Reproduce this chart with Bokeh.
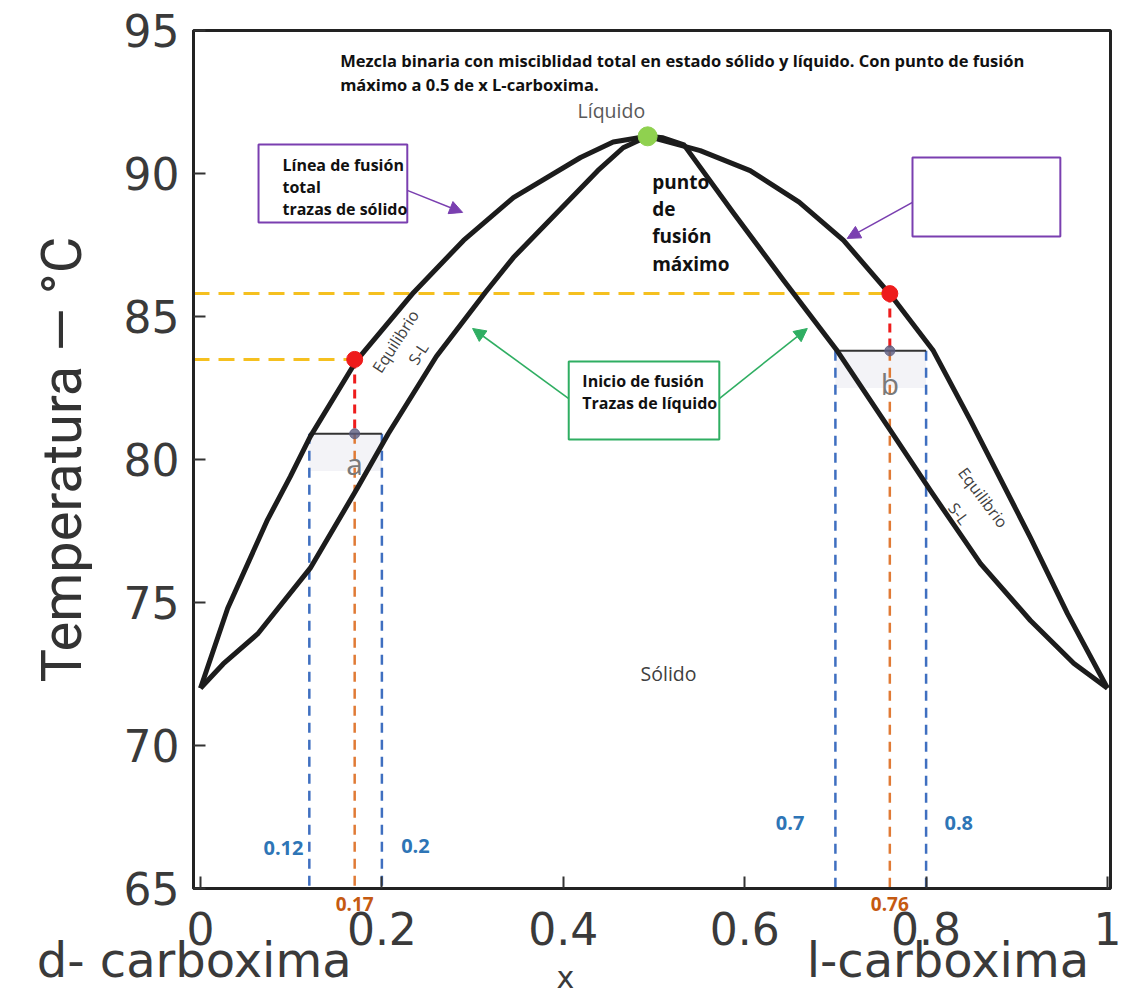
from bokeh.plotting import figure
from bokeh.models import Range1d, FixedTicker, Label, Arrow, NormalHead, LinearAxis
from bokeh.embed import file_html
from bokeh.resources import INLINE
import math

# ---------------- data ----------------
# upper curve (liquidus, "línea de fusión total")
liq_x = [0.0, 0.03, 0.074, 0.099, 0.121, 0.172, 0.235, 0.29, 0.345, 0.419, 0.455, 0.493,
         0.551, 0.606, 0.66, 0.709, 0.761, 0.808, 0.849, 0.915, 0.956, 1.0]
liq_T = [72.0, 74.8, 77.9, 79.4, 80.8, 83.46, 85.84, 87.66, 89.16, 90.56, 91.1, 91.3,
         90.8, 90.1, 89.0, 87.66, 85.75, 83.8, 81.36, 77.27, 74.6, 72.0]
# lower curve (solidus, "inicio de fusión")
sol_x = [0.0, 0.025, 0.063, 0.121, 0.173, 0.207, 0.26, 0.314, 0.345, 0.438, 0.466, 0.493,
         0.51, 0.533, 0.588, 0.643, 0.702, 0.761, 0.805, 0.86, 0.915, 0.963, 1.0]
sol_T = [72.0, 72.85, 73.9, 76.2, 79.0, 80.9, 83.6, 85.84, 87.06, 90.1, 90.9, 91.3,
         91.25, 91.0, 88.6, 86.26, 83.8, 81.0, 78.9, 76.36, 74.37, 72.87, 72.0]

# maximum melting point
max_x = [0.493]
max_T = [91.3]

# point a : tie line compositions and temperatures
a_xs = [0.12, 0.17, 0.2]
a_T_tie = 80.9
a_T_liq = 83.5
# point b
b_xs = [0.7, 0.76, 0.8]
b_T_tie = 83.8
b_T_liq = 85.8

x_ticks = [0, 0.2, 0.4, 0.6, 0.8, 1.0]
x_tick_labels = ["0", "0.2", "0.4", "0.6", "0.8", "1"]
y_ticks = [65, 70, 75, 80, 85, 90, 95]
comp_labels = ["0.17", "0.76"]

# ---------------- figure ----------------
x0, x1 = -0.0077, 1.0033
p = figure(width=1140, height=998, x_range=Range1d(x0, x1), y_range=Range1d(65, 95),
           output_backend="svg", toolbar_location=None,
           min_border_left=193, min_border_right=30, min_border_top=30, min_border_bottom=110)
p.grid.visible = False
p.outline_line_color = "#222222"
p.outline_line_width = 3
p.background_fill_color = "white"

# y axis
ya = p.yaxis[0]
ya.axis_line_color = "#222222"
ya.axis_line_width = 3
ya.major_tick_in = 12
ya.major_tick_out = 0
ya.major_tick_line_color = "#333333"
ya.major_tick_line_width = 2
ya.minor_tick_line_color = None
ya.major_label_text_font = "DejaVu Sans"
ya.major_label_text_font_size = "44px"
ya.major_label_text_color = "#3a3a3a"
ya.major_label_standoff = 14
ya.ticker = FixedTicker(ticks=y_ticks, minor_ticks=[])
ya.axis_label = "Temperatura — °C"
ya.axis_label_text_font = "Roboto"
ya.axis_label_text_font_style = "normal"
ya.axis_label_text_font_size = "56px"
ya.axis_label_text_color = "#333333"
ya.axis_label_standoff = 26

# first bottom axis: frame line, inward ticks, orange composition labels
xa = p.xaxis[0]
xa.ticker = FixedTicker(ticks=[a_xs[1], b_xs[1]], minor_ticks=x_ticks)
xa.major_label_overrides = {a_xs[1]: comp_labels[0], b_xs[1]: comp_labels[1]}
xa.axis_line_color = "#222222"
xa.axis_line_width = 3
xa.major_tick_line_color = None
xa.major_tick_in = 0
xa.major_tick_out = 0
xa.minor_tick_in = 12
xa.minor_tick_out = 0
xa.minor_tick_line_color = "#333333"
xa.minor_tick_line_width = 2
xa.major_label_text_font = "Open Sans"
xa.major_label_text_font_style = "bold"
xa.major_label_text_font_size = "19px"
xa.major_label_text_color = "#c55a11"
xa.major_label_standoff = 8

def label_axis(ticks, labels, size, standoff, font="DejaVu Sans"):
    ax = LinearAxis(ticker=FixedTicker(ticks=ticks, minor_ticks=[]),
                    major_label_overrides={t: s for t, s in zip(ticks, labels)},
                    axis_line_color=None, major_tick_line_color=None,
                    minor_tick_line_color=None, major_tick_in=0, major_tick_out=0,
                    minor_tick_in=0, minor_tick_out=0,
                    major_label_text_font=font, major_label_text_font_size=f"{size}px",
                    major_label_text_color="#3a3a3a", major_label_standoff=standoff)
    p.add_layout(ax, "below")
    return ax

label_axis(x_ticks, x_tick_labels, 44, -2)
label_axis([-0.007, 0.824], ["d- carboxima", "l-carboxima"], 48, -16)
label_axis([0.4024], ["x"], 30, -31)

# ---------------- guide lines ----------------
yellow = "#f5c01f"
blue = "#3f6fc0"
orange = "#e07a35"
red = "#ee1c1c"

# yellow dashed horizontals
p.segment(x0=[x0, x0], y0=[a_T_liq, b_T_liq], x1=[a_xs[1], b_xs[1]], y1=[a_T_liq, b_T_liq],
          line_color=yellow, line_width=3, line_dash="16 9")

# light shading under the tie lines
p.quad(left=[a_xs[0], b_xs[0]], right=[a_xs[2], b_xs[2]],
       top=[a_T_tie, b_T_tie], bottom=[a_T_tie - 1.3, b_T_tie - 1.3],
       fill_color="#c9c9d9", fill_alpha=0.22, line_color=None)

# blue dashed verticals
bx = [a_xs[0], a_xs[2], b_xs[0], b_xs[2]]
bt = [a_T_tie, a_T_tie, b_T_tie, b_T_tie]
p.segment(x0=bx, y0=bt, x1=bx, y1=[65] * 4, line_color=blue, line_width=2.5, line_dash="10 7")
# orange dashed verticals
ox = [a_xs[1], b_xs[1]]
p.segment(x0=ox, y0=[a_T_tie, b_T_tie], x1=ox, y1=[65, 65], line_color=orange,
          line_width=2.5, line_dash="10 7")
# red dashed verticals
p.segment(x0=ox, y0=[a_T_liq, b_T_liq], x1=ox, y1=[a_T_tie, b_T_tie], line_color=red,
          line_width=3, line_dash="9 6")

# tie lines
p.segment(x0=[a_xs[0], b_xs[0]], y0=[a_T_tie, b_T_tie], x1=[a_xs[2], b_xs[2]],
          y1=[a_T_tie, b_T_tie], line_color="#333333", line_width=2)

# ---------------- curves ----------------
p.line(liq_x, liq_T, line_color="#1c1c1c", line_width=5, line_join="round")
p.line(sol_x, sol_T, line_color="#1c1c1c", line_width=5, line_join="round")

# points
p.scatter(ox, [a_T_tie, b_T_tie], size=10, color="#5d5d80", alpha=0.8)
p.scatter(ox, [a_T_liq, b_T_liq], size=16, color=red)
p.scatter(max_x, max_T, size=19, color="#8fd14f")

# ---------------- annotation boxes and arrows ----------------
purple = "#7a3fb0"
green = "#2fae62"
p.quad(left=[0.064, 0.785], right=[0.228, 0.948], bottom=[88.29, 87.8], top=[91.01, 90.56],
       fill_color="white", line_color=purple, line_width=2)
p.quad(left=[0.406], right=[0.572], bottom=[80.70], top=[83.43],
       fill_color="white", line_color=green, line_width=2)

def arrow(xs, ys, xe, ye, c):
    p.add_layout(Arrow(end=NormalHead(size=13, fill_color=c, line_color=c),
                       x_start=xs, y_start=ys, x_end=xe, y_end=ye,
                       line_color=c, line_width=1.6))

arrow(0.228, 89.41, 0.289, 88.64, purple)
arrow(0.785, 88.99, 0.713, 87.73, purple)
arrow(0.406, 82.13, 0.300, 84.58, green)
arrow(0.572, 82.13, 0.669, 84.58, green)

# ---------------- texts ----------------
def lab(x, y, text, size, color, style="normal", align="left", baseline="middle",
        angle=0.0, font="Open Sans"):
    p.add_layout(Label(x=x, y=y, text=text, text_font=font, text_font_size=f"{size}px",
                       text_color=color, text_font_style=style, text_align=align,
                       text_baseline=baseline, angle=angle))

lab(0.154, 93.95, "Mezcla binaria con misciblidad total en estado sólido y líquido. Con punto de fusión",
    16.5, "#111111", "bold")
lab(0.154, 93.10, "máximo a 0.5 de x L-carboxima.", 16.5, "#111111", "bold")
lab(0.453, 92.2, "Líquido", 19.5, "#595959", align="center")
lab(0.516, 72.52, "Sólido", 19.5, "#404040", align="center")

for i, t in enumerate(["punto", "de", "fusión", "máximo"]):
    lab(0.498, 89.7 - i * 0.95, t, 19, "#111111", "bold")

for i, t in enumerate(["Línea de fusión", "total", " trazas de sólido"]):
    lab(0.0904, 90.28 - i * 0.76, t, 16, "#111111", "bold")
for i, t in enumerate(["Inicio de fusión", "Trazas de líquido"]):
    lab(0.421, 82.76 - i * 0.77, t, 16, "#111111", "bold")

ang_l = math.radians(57)
ang_r = math.radians(-53)
lab(0.215, 84.13, "Equilibrio", 16, "#404040", align="center", angle=ang_l)
lab(0.240, 83.7, "S-L", 16, "#404040", align="center", angle=ang_l)
lab(0.863, 78.67, "Equilibrio", 16, "#404040", align="center", angle=ang_r)
lab(0.836, 78.11, "S-L", 16, "#404040", align="center", angle=ang_r)

lab(a_xs[1], 79.86, "a", 30, "#7a7a7a", align="center")
lab(b_xs[1], 82.66, "b", 30, "#7a7a7a", align="center")

lab(0.0915, 66.4, "0.12", 20, "#2e75b6", "bold", align="center")
lab(0.237, 66.47, "0.2", 20, "#2e75b6", "bold", align="center")
lab(0.650, 67.3, "0.7", 20, "#2e75b6", "bold", align="center")
lab(0.836, 67.3, "0.8", 20, "#2e75b6", "bold", align="center")

open("out.html", "w").write(file_html(p, INLINE))
